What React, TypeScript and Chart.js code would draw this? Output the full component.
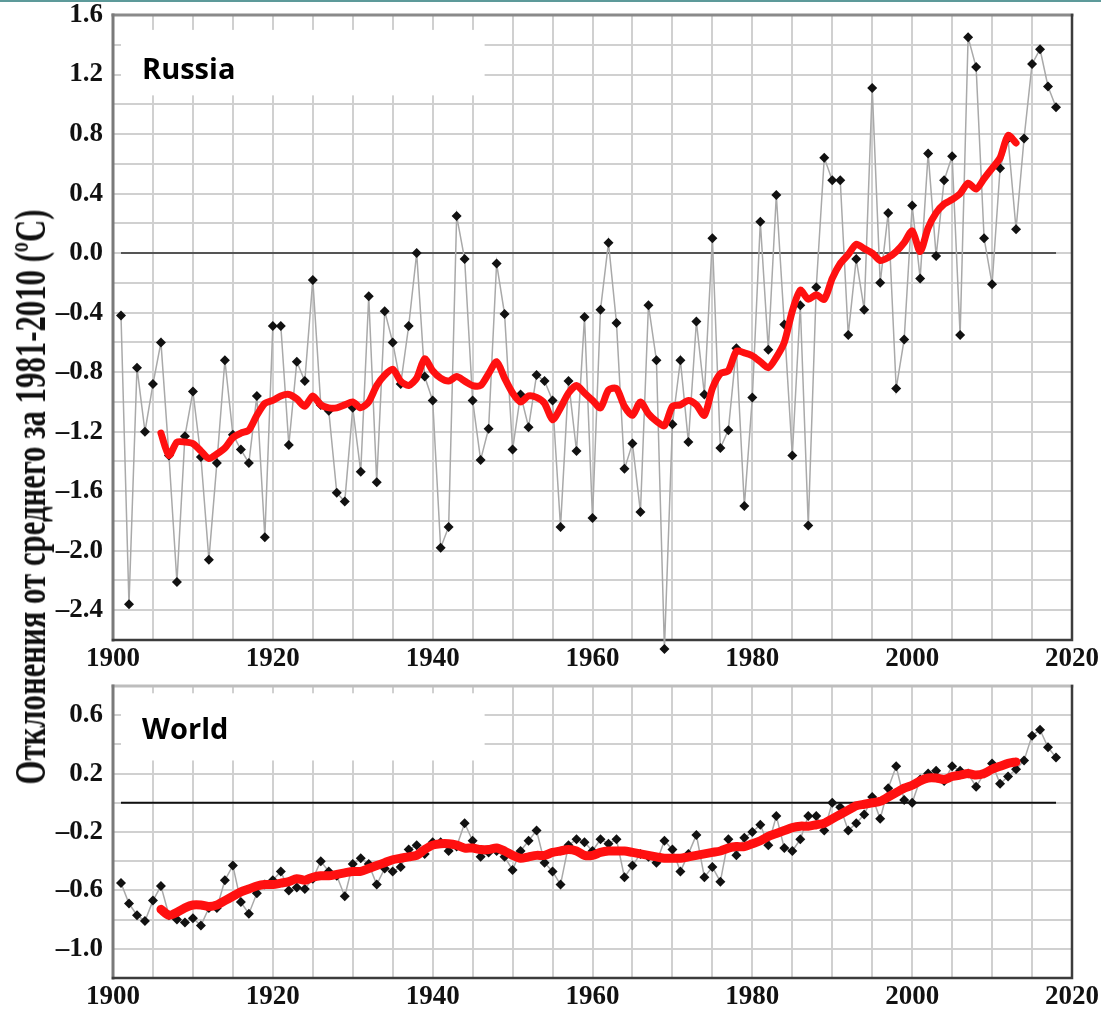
import React, { useEffect, useRef } from "react";
import { Chart, registerables } from "chart.js";

Chart.register(...registerables);

// ---------- data ----------
const ANNUAL_START_YEAR = 1901;
const SMOOTH_START_YEAR = 1906;

const russiaAnnual = [
  -0.42, -2.36, -0.77, -1.2, -0.88, -0.6, -1.36, -2.21, -1.23, -0.93,
  -1.37, -2.06, -1.41, -0.72, -1.22, -1.32, -1.41, -0.96, -1.91, -0.49,
  -0.49, -1.29, -0.73, -0.86, -0.18, -1.02, -1.06, -1.61, -1.67, -1.04,
  -1.47, -0.29, -1.54, -0.39, -0.6, -0.88, -0.49, 0.0, -0.83, -0.99,
  -1.98, -1.84, 0.25, -0.04, -0.99, -1.39, -1.18, -0.07, -0.41, -1.32,
  -0.95, -1.17, -0.82, -0.86, -0.99, -1.84, -0.86, -1.33, -0.43, -1.78,
  -0.38, 0.07, -0.47, -1.45, -1.28, -1.74, -0.35, -0.72, -2.66, -1.15,
  -0.72, -1.27, -0.46, -0.95, 0.1, -1.31, -1.19, -0.64, -1.7, -0.97,
  0.21, -0.65, 0.39, -0.48, -1.36, -0.35, -1.83, -0.23, 0.64, 0.49,
  0.49, -0.55, -0.04, -0.38, 1.11, -0.2, 0.27, -0.91, -0.58, 0.32,
  -0.17, 0.67, -0.02, 0.49, 0.65, -0.55, 1.45, 1.25, 0.1, -0.21,
  0.57, 0.77, 0.16, 0.77, 1.27, 1.37, 1.12, 0.98,
];

const russiaSmooth = [
  -1.21, -1.36, -1.27, -1.27, -1.28, -1.33, -1.38, -1.35, -1.31, -1.24,
  -1.21, -1.19, -1.09, -1.01, -0.99, -0.96, -0.95, -0.98, -1.03, -0.96,
  -1.02, -1.04, -1.04, -1.02, -1.0, -1.04, -1.0, -0.89, -0.82, -0.78,
  -0.86, -0.89, -0.84, -0.71, -0.79, -0.84, -0.86, -0.83, -0.86, -0.89,
  -0.89, -0.81, -0.73, -0.84, -0.94, -1.0, -0.96, -0.97, -1.01, -1.12,
  -1.04, -0.94, -0.89, -0.94, -0.99, -1.04, -0.92, -0.91, -1.03, -1.09,
  -1.0, -1.08, -1.13, -1.16, -1.03, -1.02, -0.99, -1.02, -1.09, -0.91,
  -0.81, -0.79, -0.66, -0.67, -0.69, -0.73, -0.77, -0.7, -0.6, -0.39,
  -0.25, -0.31, -0.28, -0.31, -0.17, -0.07, -0.01, 0.06, 0.03, 0.0,
  -0.05, -0.03, 0.01, 0.07, 0.15, 0.01, 0.17, 0.27, 0.33, 0.36,
  0.4, 0.47, 0.43, 0.5, 0.57, 0.64, 0.79, 0.74,
];

const worldAnnual = [
  -0.55, -0.69, -0.77, -0.81, -0.67, -0.57, -0.77, -0.8, -0.82, -0.79,
  -0.84, -0.72, -0.72, -0.53, -0.43, -0.68, -0.76, -0.62, -0.56, -0.53,
  -0.47, -0.6, -0.58, -0.59, -0.52, -0.4, -0.47, -0.5, -0.64, -0.42,
  -0.38, -0.42, -0.56, -0.45, -0.47, -0.44, -0.32, -0.29, -0.35, -0.27,
  -0.27, -0.33, -0.3, -0.14, -0.26, -0.37, -0.34, -0.33, -0.37, -0.46,
  -0.33, -0.26, -0.19, -0.41, -0.47, -0.56, -0.29, -0.25, -0.27, -0.33,
  -0.25, -0.28, -0.25, -0.51, -0.43, -0.35, -0.37, -0.41, -0.26, -0.32,
  -0.47, -0.35, -0.22, -0.51, -0.44, -0.54, -0.25, -0.36, -0.24, -0.2,
  -0.15, -0.29, -0.09, -0.31, -0.33, -0.25, -0.09, -0.09, -0.19, 0.0,
  -0.03, -0.19, -0.14, -0.08, 0.04, -0.11, 0.1, 0.25, 0.02, 0.0,
  0.16, 0.2, 0.22, 0.15, 0.25, 0.22, 0.2, 0.11, 0.2, 0.27,
  0.13, 0.18, 0.23, 0.29, 0.46, 0.5, 0.38, 0.31,
];

const worldSmooth = [
  -0.73, -0.77, -0.75, -0.72, -0.7, -0.7, -0.71, -0.7, -0.67, -0.64,
  -0.61, -0.59, -0.57, -0.56, -0.56, -0.55, -0.54, -0.52, -0.53, -0.51,
  -0.5, -0.5, -0.49, -0.48, -0.47, -0.47, -0.45, -0.43, -0.41, -0.39,
  -0.38, -0.37, -0.36, -0.32, -0.29, -0.28, -0.28, -0.29, -0.31, -0.31,
  -0.32, -0.32, -0.31, -0.33, -0.36, -0.38, -0.37, -0.36, -0.36, -0.34,
  -0.33, -0.32, -0.33, -0.36, -0.36, -0.34, -0.33, -0.33, -0.33, -0.34,
  -0.35, -0.36, -0.37, -0.38, -0.38, -0.38, -0.37, -0.36, -0.35, -0.34,
  -0.33, -0.31, -0.3, -0.3, -0.28, -0.26, -0.23, -0.21, -0.19, -0.17,
  -0.16, -0.16, -0.15, -0.14, -0.11, -0.08, -0.05, -0.02, -0.01, 0.0,
  0.01, 0.04, 0.07, 0.1, 0.12, 0.15, 0.17, 0.17, 0.16, 0.18,
  0.19, 0.2, 0.19, 0.2, 0.23, 0.25, 0.27, 0.28,
];

const zeroLineYears = [1901, 2018];
const xTickLabels = [1900, 1920, 1940, 1960, 1980, 2000, 2020];
const russiaYLabels = [1.6, 1.2, 0.8, 0.4, 0.0, -0.4, -0.8, -1.2, -1.6, -2.0, -2.4];
const worldYLabels = [0.6, 0.2, -0.2, -0.6, -1.0];

const yTitle = "Отклонения от среднего за 1981-2010 (ºC)";

// ---------- helpers ----------
const toPoints = (start: number, vals: number[]) =>
  vals.map((v, i) => ({ x: start + i, y: v }));

const fmt = (v: number) => {
  const s = Math.abs(v).toFixed(1);
  return v < -0.001 ? "\u2013" + s : s;
};

const POINT_R = 5;

function diamond(ctx: CanvasRenderingContext2D, x: number, y: number, r: number) {
  ctx.beginPath();
  ctx.moveTo(x, y - r);
  ctx.lineTo(x + r, y);
  ctx.lineTo(x, y + r);
  ctx.lineTo(x - r, y);
  ctx.closePath();
  ctx.fill();
}

const panelPlugin = {
  id: "panelDecor",
  beforeDatasetsDraw(chart: any, _args: any, opts: any) {
    const { ctx, chartArea, scales } = chart;
    const { left, top, right, bottom } = chartArea;
    const b = opts.box;
    ctx.save();
    if (b) {
      const px0 = scales.x.getPixelForValue(b.x0);
      const px1 = scales.x.getPixelForValue(b.x1);
      const py0 = scales.y.getPixelForValue(b.y0);
      const py1 = scales.y.getPixelForValue(b.y1);
      ctx.fillStyle = "#ffffff";
      ctx.fillRect(px0, py0, px1 - px0, py1 - py0);
    }
    // frame
    ctx.lineCap = "square";
    ctx.strokeStyle = opts.topColor || "#8a8a8a";
    ctx.lineWidth = 3;
    ctx.beginPath();
    ctx.moveTo(left, top);
    ctx.lineTo(right, top);
    ctx.stroke();
    ctx.strokeStyle = "#7a7a7a";
    ctx.beginPath();
    ctx.moveTo(left, top);
    ctx.lineTo(left, bottom);
    ctx.stroke();
    ctx.strokeStyle = "#3c3c3c";
    ctx.lineWidth = 2.5;
    ctx.beginPath();
    ctx.moveTo(left, bottom);
    ctx.lineTo(right, bottom);
    ctx.lineTo(right, top);
    ctx.stroke();
    ctx.restore();
  },
  afterDatasetsDraw(chart: any) {
    // points that fall just outside the plot area (Chart.js skips them)
    const { ctx, chartArea } = chart;
    const meta = chart.getDatasetMeta(1);
    ctx.save();
    ctx.fillStyle = "#111111";
    meta.data.forEach((el: any) => {
      if (el.y > chartArea.bottom + POINT_R / 2 || el.y < chartArea.top - POINT_R / 2) {
        diamond(ctx, el.x, el.y, POINT_R);
      }
    });
    ctx.restore();
  },
};

function makeChart(
  canvas: HTMLCanvasElement,
  cfg: {
    annual: number[];
    smooth: number[];
    yMin: number;
    yMax: number;
    yLabels: number[];
    padTop: number;
    xHeight: number;
    redWidth: number;
    zeroColor: string;
    box: { x0: number; x1: number; y0: number; y1: number };
    topColor: string;
  }
) {
  const tickFont = { family: '"Liberation Serif", "Times New Roman", serif', size: 27, weight: "bold" as const };
  return new Chart(canvas, {
    type: "line",
    data: {
      datasets: [
        {
          data: toPoints(SMOOTH_START_YEAR, cfg.smooth),
          borderColor: "#ff1010",
          borderWidth: cfg.redWidth,
          pointRadius: 0,
          tension: 0.25,
          borderCapStyle: "round",
          borderJoinStyle: "round",
          fill: false,
        },
        {
          data: toPoints(ANNUAL_START_YEAR, cfg.annual),
          borderColor: "#a9a9a9",
          borderWidth: 1.5,
          pointStyle: "rectRot",
          pointRadius: POINT_R,
          pointBackgroundColor: "#111111",
          pointBorderColor: "#111111",
          pointBorderWidth: 0,
          tension: 0,
          fill: false,
          clip: false as any,
        },
        {
          data: zeroLineYears.map((x) => ({ x, y: 0 })),
          borderColor: cfg.zeroColor,
          borderWidth: 2,
          pointRadius: 0,
          fill: false,
        },
      ],
    },
    options: {
      animation: false,
      responsive: false,
      maintainAspectRatio: false,
      devicePixelRatio: 1,
      events: [],
      layout: { padding: { top: cfg.padTop, right: 29, left: 0, bottom: 0 } },
      plugins: {
        legend: { display: false },
        tooltip: { enabled: false },
        panelDecor: { box: cfg.box, topColor: cfg.topColor },
      } as any,
      scales: {
        x: {
          type: "linear",
          min: 1900,
          max: 2020,
          afterFit: (s: any) => {
            s.height = cfg.xHeight;
            s.paddingLeft = 0;
            s.paddingRight = 0;
          },
          grid: { color: "#d0d0d0", lineWidth: 2, drawTicks: false },
          border: { display: false },
          ticks: {
            stepSize: 5,
            autoSkip: false,
            maxRotation: 0,
            padding: 3,
            color: "#111111",
            font: tickFont,
            callback: (v: any) => (xTickLabels.includes(Number(v)) ? String(v) : ""),
          },
        },
        y: {
          type: "linear",
          min: cfg.yMin,
          max: cfg.yMax,
          afterFit: (s: any) => {
            s.width = 113;
            s.paddingTop = 0;
            s.paddingBottom = 0;
          },
          grid: { color: "#d0d0d0", lineWidth: 2, drawTicks: false },
          border: { display: false },
          ticks: {
            stepSize: 0.2,
            autoSkip: false,
            padding: 10,
            color: "#111111",
            font: tickFont,
            callback: (v: any) => {
              const n = Number(v);
              return cfg.yLabels.some((l) => Math.abs(l - n) < 1e-6) ? fmt(n) : "";
            },
          },
        },
      },
    },
    plugins: [panelPlugin],
  } as any);
}

function measureWidth(text: string, font: string) {
  const c = document.createElement("canvas");
  const ctx = c.getContext("2d");
  if (!ctx) return 860;
  ctx.font = font;
  return ctx.measureText(text).width;
}

export default function App() {
  const russiaRef = useRef<HTMLCanvasElement | null>(null);
  const worldRef = useRef<HTMLCanvasElement | null>(null);

  useEffect(() => {
    document.body.style.margin = "0";
    const c1 = makeChart(russiaRef.current as HTMLCanvasElement, {
      annual: russiaAnnual,
      smooth: russiaSmooth,
      yMin: -2.6,
      yMax: 1.6,
      yLabels: russiaYLabels,
      padTop: 15,
      xHeight: 35,
      redWidth: 7,
      zeroColor: "#555555",
      box: { x0: 1901, x1: 1946.5, y0: 1.5, y1: 1.06 },
      topColor: "#8a8a8a",
    });
    const c2 = makeChart(worldRef.current as HTMLCanvasElement, {
      annual: worldAnnual,
      smooth: worldSmooth,
      yMin: -1.2,
      yMax: 0.8,
      yLabels: worldYLabels,
      padTop: 11,
      xHeight: 35,
      redWidth: 9,
      zeroColor: "#111111",
      box: { x0: 1901, x1: 1946.5, y0: 0.75, y1: 0.29 },
      topColor: "#bdbdbd",
    });
    return () => {
      c1.destroy();
      c2.destroy();
    };
  }, []);

  const titleFont = 'bold 44px "Liberation Serif", "Times New Roman", serif';
  const natural = typeof document !== "undefined" ? measureWidth(yTitle, titleFont) : 860;
  const scaleX = 575 / natural;

  const labelStyle: React.CSSProperties = {
    position: "absolute",
    left: 142,
    fontFamily: '"Open Sans", "Noto Sans", sans-serif',
    fontWeight: 700,
    fontSize: 29,
    lineHeight: "1",
    color: "#000",
    whiteSpace: "nowrap",
  };

  return (
    <div
      style={{
        position: "absolute",
        left: 0,
        top: 0,
        width: 1101,
        height: 1013,
        background: "#ffffff",
        overflow: "hidden",
      }}
    >
      <div style={{ position: "absolute", left: 0, top: 0, width: 1101, height: 2, background: "#5d9a9a" }} />
      <canvas
        ref={russiaRef}
        width={1101}
        height={675}
        style={{ position: "absolute", left: 0, top: 0, width: 1101, height: 675 }}
      />
      <canvas
        ref={worldRef}
        width={1101}
        height={338}
        style={{ position: "absolute", left: 0, top: 675, width: 1101, height: 338 }}
      />
      <div style={{ ...labelStyle, top: 53 }}>Russia</div>
      <div style={{ ...labelStyle, top: 713 }}>World</div>
      <div style={{ position: "absolute", left: 31, top: 497, width: 0, height: 0 }}>
        <div
          style={{
            position: "absolute",
            left: 0,
            top: 0,
            whiteSpace: "nowrap",
            font: titleFont,
            lineHeight: "1",
            color: "#111",
            transform: `translate(-50%, -50%) rotate(-90deg) scaleX(${scaleX})`,
          }}
        >
          {yTitle}
        </div>
      </div>
    </div>
  );
}
